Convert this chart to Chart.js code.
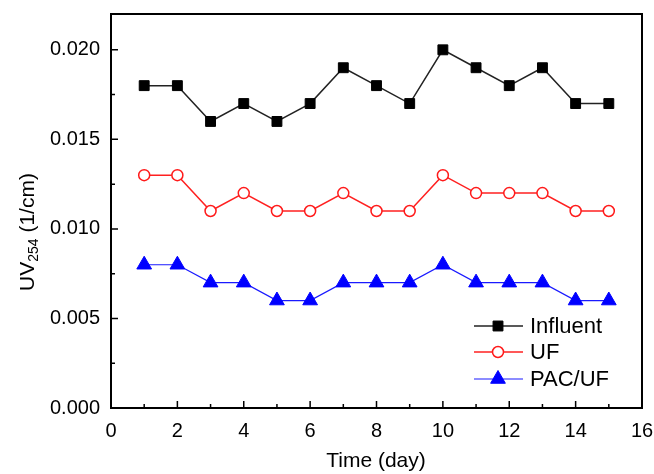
<!DOCTYPE html>
<html>
<head>
<meta charset="utf-8">
<script src="https://cdn.jsdelivr.net/npm/chart.js@4"></script>
<style>
  html, body { margin: 0; padding: 0; background: #fff; }
  #wrap { width: 654px; height: 474px; }
</style>
</head>
<body>
<div id="wrap"><canvas id="chart" width="654" height="474"></canvas></div>
<script>
// data
const days = [1, 2, 3, 4, 5, 6, 7, 8, 9, 10, 11, 12, 13, 14, 15];
const influent = [0.018, 0.018, 0.016, 0.017, 0.016, 0.017, 0.019, 0.018, 0.017, 0.020, 0.019, 0.018, 0.019, 0.017, 0.017];
const uf = [0.013, 0.013, 0.011, 0.012, 0.011, 0.011, 0.012, 0.011, 0.011, 0.013, 0.012, 0.012, 0.012, 0.011, 0.011];
const pacUf = [0.008, 0.008, 0.007, 0.007, 0.006, 0.006, 0.007, 0.007, 0.007, 0.008, 0.007, 0.007, 0.007, 0.006, 0.006];

const xTicks = [0, 2, 4, 6, 8, 10, 12, 14, 16];
const xMinorTicks = [1, 3, 5, 7, 9, 11, 13, 15];
const yTicks = [0, 0.005, 0.010, 0.015, 0.020];
const yMinorTicks = [0.0025, 0.0075, 0.0125, 0.0175];

const FONT = 'Arial, "Liberation Sans", sans-serif';

const pts = (ys) => days.map((d, i) => ({ x: d, y: ys[i] }));

// frame, inward ticks, axis titles and legend
const decor = {
    id: 'decor',
    afterDraw(chart) {
        const ctx = chart.ctx;
        const a = chart.chartArea;
        const xs = chart.scales.x, ys = chart.scales.y;
        ctx.save();
        ctx.strokeStyle = '#000';
        ctx.lineWidth = 2;
        ctx.strokeRect(a.left, a.top, a.right - a.left, a.bottom - a.top);

        ctx.lineWidth = 1.5;
        ctx.beginPath();
        xTicks.forEach(v => { const p = xs.getPixelForValue(v); ctx.moveTo(p, a.bottom); ctx.lineTo(p, a.bottom - 7); });
        xMinorTicks.forEach(v => { const p = xs.getPixelForValue(v); ctx.moveTo(p, a.bottom); ctx.lineTo(p, a.bottom - 4); });
        yTicks.forEach(v => { const p = ys.getPixelForValue(v); ctx.moveTo(a.left, p); ctx.lineTo(a.left + 7, p); });
        yMinorTicks.forEach(v => { const p = ys.getPixelForValue(v); ctx.moveTo(a.left, p); ctx.lineTo(a.left + 4, p); });
        ctx.stroke();

        // x title
        ctx.fillStyle = '#000';
        ctx.font = '21px ' + FONT;
        ctx.textAlign = 'center';
        ctx.textBaseline = 'middle';
        ctx.fillText('Time (day)', 376, 461);

        // y title with subscript
        ctx.save();
        ctx.translate(28, 232);
        ctx.rotate(-Math.PI / 2);
        ctx.textAlign = 'left';
        ctx.textBaseline = 'middle';
        const big = '21px ' + FONT, small = '14px ' + FONT;
        ctx.font = big; const w1 = ctx.measureText('UV').width;
        ctx.font = small; const w2 = ctx.measureText('254').width;
        ctx.font = big; const w3 = ctx.measureText(' (1/cm)').width;
        let x0 = -(w1 + w2 + w3) / 2;
        ctx.font = big; ctx.fillText('UV', x0, 0);
        ctx.font = small; ctx.fillText('254', x0 + w1, 6);
        ctx.font = big; ctx.fillText(' (1/cm)', x0 + w1 + w2, 0);
        ctx.restore();

        // legend
        const rows = [326, 352, 379];
        chart.data.datasets.forEach((ds, i) => {
            const y = rows[i];
            ctx.strokeStyle = ds.borderColor;
            ctx.lineWidth = ds.borderWidth;
            ctx.beginPath(); ctx.moveTo(474, y); ctx.lineTo(523, y); ctx.stroke();
            ctx.fillStyle = ds.pointBackgroundColor;
            ctx.strokeStyle = ds.pointBorderColor;
            ctx.lineWidth = ds.pointBorderWidth;
            Chart.helpers.drawPoint(ctx, {
                pointStyle: ds.pointStyle, radius: ds.pointRadius, rotation: 0,
                borderWidth: ds.pointBorderWidth
            }, 498, y);
            ctx.fillStyle = '#000';
            ctx.font = '22px ' + FONT;
            ctx.textAlign = 'left';
            ctx.textBaseline = 'middle';
            ctx.fillText(ds.label, 530, y + 1);
        });
        ctx.restore();
    }
};

new Chart(document.getElementById('chart'), {
    type: 'line',
    data: {
        datasets: [
            {
                label: 'Influent', data: pts(influent),
                borderColor: '#222', borderWidth: 1.5,
                pointStyle: 'rect', pointRadius: 7,
                pointBackgroundColor: '#000', pointBorderColor: '#000', pointBorderWidth: 1
            },
            {
                label: 'UF', data: pts(uf),
                borderColor: '#ff2020', borderWidth: 1.5,
                pointStyle: 'circle', pointRadius: 5.5,
                pointBackgroundColor: '#fff', pointBorderColor: '#ff1a1a', pointBorderWidth: 1.5
            },
            {
                label: 'PAC/UF', data: pts(pacUf),
                borderColor: '#1a1aff', borderWidth: 1.2,
                pointStyle: 'triangle', pointRadius: 8.5,
                pointBackgroundColor: '#0000ff', pointBorderColor: '#0000ff', pointBorderWidth: 1
            }
        ]
    },
    options: {
        responsive: false,
        animation: false,
        layout: { padding: { top: 14, right: 12, left: 0, bottom: 0 } },
        plugins: { legend: { display: false }, tooltip: { enabled: false } },
        scales: {
            x: {
                type: 'linear', min: 0, max: 16,
                afterBuildTicks: s => { s.ticks = xTicks.map(v => ({ value: v })); },
                afterFit: s => { s.height = 66; s.paddingLeft = 0; s.paddingRight = 0; },
                grid: { display: false, drawTicks: false },
                border: { display: false },
                ticks: { padding: 11, color: '#000', font: { family: FONT, size: 20 } }
            },
            y: {
                type: 'linear', min: 0, max: 0.022,
                afterBuildTicks: s => { s.ticks = yTicks.map(v => ({ value: v })); },
                afterFit: s => { s.width = 111; s.paddingTop = 0; s.paddingBottom = 0; },
                grid: { display: false, drawTicks: false },
                border: { display: false },
                ticks: { padding: 11, color: '#000', font: { family: FONT, size: 20 },
                         callback: v => v.toFixed(3) }
            }
        }
    },
    plugins: [decor]
});
</script>
</body>
</html>
